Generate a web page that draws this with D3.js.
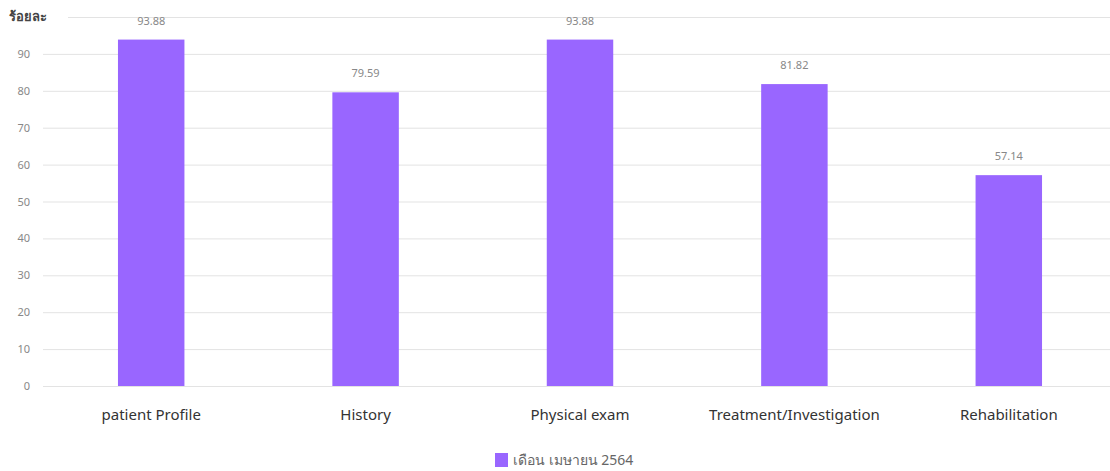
<!DOCTYPE html>
<html>
<head>
<meta charset="utf-8">
<script src="https://cdn.jsdelivr.net/npm/d3@7"></script>
<style>
  html, body { margin: 0; padding: 0; background: #fff; }
  svg { display: block; font-family: "Noto Sans", "Open Sans", sans-serif; }
</style>
</head>
<body>
<svg id="chart" width="1110" height="471"></svg>
<script>
const categories = ["patient Profile", "History", "Physical exam", "Treatment/Investigation", "Rehabilitation"];
const values = [93.88, 79.59, 93.88, 81.82, 57.14];
const yTicks = [0, 10, 20, 30, 40, 50, 60, 70, 80, 90];
const yTitle = "ร้อยละ";
const seriesName = "เดือน เมษายน 2564";

const barColor = "#9966ff";
const svg = d3.select("#chart");

const x = d3.scaleBand().domain(categories).range([44, 1116]).paddingInner(0.69).paddingOuter(0.345);
const y = d3.scaleLinear().domain([0, 100]).range([386, 17]);

// horizontal gridlines
svg.append("g").selectAll("line").data(yTicks).join("line")
  .attr("x1", 43).attr("x2", 1110)
  .attr("y1", d => y(d) + 0.5).attr("y2", d => y(d) + 0.5)
  .attr("stroke", "#e3e3e3").attr("stroke-width", 1);
svg.append("line")
  .attr("x1", 68).attr("x2", 1110)
  .attr("y1", y(100) + 0.5).attr("y2", y(100) + 0.5)
  .attr("stroke", "#e3e3e3");

// y axis labels
const yAxis = d3.axisLeft(y).tickValues(yTicks).tickSize(0).tickPadding(0);
const gy = svg.append("g").attr("transform", "translate(30,0)").call(yAxis);
gy.select(".domain").remove();
gy.selectAll("text").attr("fill", "#888").attr("font-size", 11).attr("font-family", "\"Noto Sans\", sans-serif");

svg.append("text").attr("x", 9).attr("y", y(100) + 4)
  .attr("fill", "#444").attr("font-size", 13).attr("font-weight", "bold")
  .text(yTitle);

// bars
svg.append("g").selectAll("rect").data(values).join("rect")
  .attr("x", (d, i) => x(categories[i]))
  .attr("width", x.bandwidth())
  .attr("y", d => y(d))
  .attr("height", d => y(0) - y(d))
  .attr("fill", barColor);

// value labels
svg.append("g").selectAll("text").data(values).join("text")
  .attr("x", (d, i) => x(categories[i]) + x.bandwidth() / 2)
  .attr("y", d => y(d) - 15)
  .attr("text-anchor", "middle")
  .attr("fill", "#888").attr("font-size", 11)
  .text(d => d.toFixed(2));

// category axis
const xAxis = d3.axisBottom(x).tickSize(0).tickPadding(0);
const gx = svg.append("g").attr("transform", "translate(0,420)").call(xAxis);
gx.select(".domain").remove();
gx.selectAll("text").attr("fill", "#333").attr("font-size", 15).attr("dy", 0)
  .attr("font-family", "\"Noto Sans\", sans-serif");

// legend
const lg = svg.append("g").attr("transform", "translate(495,453)");
lg.append("rect").attr("width", 13).attr("height", 14).attr("fill", barColor);
lg.append("text").attr("x", 18).attr("y", 12).attr("fill", "#666").attr("font-size", 14).text(seriesName);
</script>
</body>
</html>
